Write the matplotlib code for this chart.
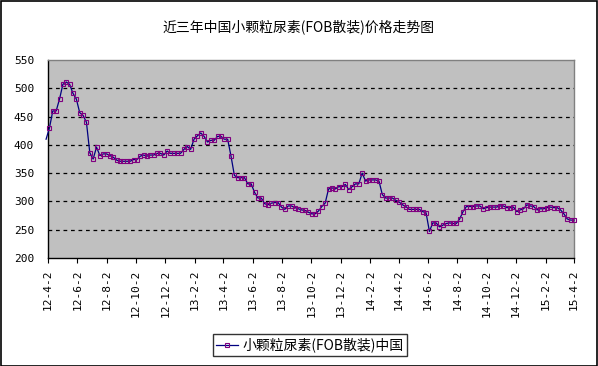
import numpy as np
import pandas as pd
import matplotlib
matplotlib.use("Agg")
import matplotlib.pyplot as plt
from matplotlib.patches import Rectangle

plt.rcParams['font.family'] = ['Noto Sans CJK SC', 'DejaVu Sans']

# weekly prices, USD/t
start_date = "2012-03-29"
prices = [
    410, 430, 460, 460, 481, 507, 511, 507, 491, 481,
    457, 452, 440, 386, 375, 396, 381, 384, 384, 381,
    378, 373, 371, 371, 371, 371, 374, 374, 380, 382,
    380, 382, 382, 385, 385, 382, 389, 385, 385, 385,
    385, 392, 397, 392, 410, 416, 421, 415, 405, 408,
    408, 415, 415, 410, 410, 380, 346, 342, 342, 342,
    331, 331, 316, 306, 306, 296, 294, 297, 298, 298,
    290, 286, 292, 292, 289, 287, 285, 284, 281, 278,
    278, 283, 291, 297, 322, 324, 322, 326, 326, 330,
    321, 326, 331, 331, 350, 336, 338, 338, 338, 336,
    312, 306, 306, 306, 302, 299, 294, 291, 286, 286,
    286, 286, 282, 280, 247, 262, 262, 255, 258, 261,
    262, 261, 261, 269, 282, 291, 291, 291, 292, 292,
    287, 289, 290, 290, 290, 292, 292, 289, 289, 290,
    282, 285, 287, 294, 292, 291, 285, 287, 287, 289,
    290, 289, 289, 285, 278, 269, 267, 267,
]
dates = pd.date_range(start_date, periods=len(prices), freq="7D")

tick_dates = pd.date_range("2012-04-01", periods=19, freq="2MS") + pd.Timedelta(days=1)
tick_labels = [f"{d.year % 100}-{d.month}-{d.day}" for d in tick_dates]
y_ticks = [200, 250, 300, 350, 400, 450, 500, 550]

title = "近三年中国小颗粒尿素(FOB散装)价格走势图"
series_name = "小颗粒尿素(FOB散装)中国"

fig = plt.figure(figsize=(5.98, 3.66), dpi=100)
ax = fig.add_axes([48 / 598, 1 - 258 / 366, 526 / 598, 198 / 366])
ax.set_facecolor("#C0C0C0")

ax.plot(dates, prices, color="#000080", lw=0.9, marker="s", markersize=3.4,
        markerfacecolor="none", markeredgecolor="#800080", markeredgewidth=0.8,
        markevery=range(1, len(prices)), clip_on=False, zorder=3, label=series_name)

ax.set_xlim(pd.Timestamp("2012-04-02"), pd.Timestamp("2015-04-02"))
ax.set_ylim(200, 550)
ax.set_yticks(y_ticks)
ax.set_yticklabels([str(v) for v in y_ticks], family="DejaVu Sans Mono", fontsize=8)
ax.set_xticks(tick_dates)
ax.set_xticklabels(tick_labels, rotation=90, family="DejaVu Sans Mono", fontsize=8)
ax.tick_params(axis="y", length=0, pad=10)
ax.tick_params(axis="x", length=3.5, width=0.8, pad=5, direction="out")

for v in y_ticks[1:-1]:
    ax.axhline(v, color="black", lw=0.9, ls=(0, (3, 3)), zorder=1)

ax.spines["left"].set_color("black")
ax.spines["bottom"].set_color("black")
ax.spines["top"].set_color("#808080")
ax.spines["right"].set_color("#808080")
for s in ax.spines.values():
    s.set_linewidth(1.0)

fig.text(0.5, 1 - 27 / 366, title, ha="center", va="center", fontsize=10)

leg = fig.legend(loc="center", bbox_to_anchor=(310 / 598, 1 - 345 / 366),
                 fontsize=10, numpoints=1, fancybox=False, edgecolor="black",
                 handlelength=1.6, handletextpad=0.3, borderpad=0.25,
                 borderaxespad=0)
leg.get_frame().set_linewidth(1.0)

fig.patches.append(Rectangle((0.001, 0.001), 0.997, 0.996, transform=fig.transFigure,
                             fill=False, edgecolor="black", lw=1.2))

fig.savefig("out.png", dpi=100)
